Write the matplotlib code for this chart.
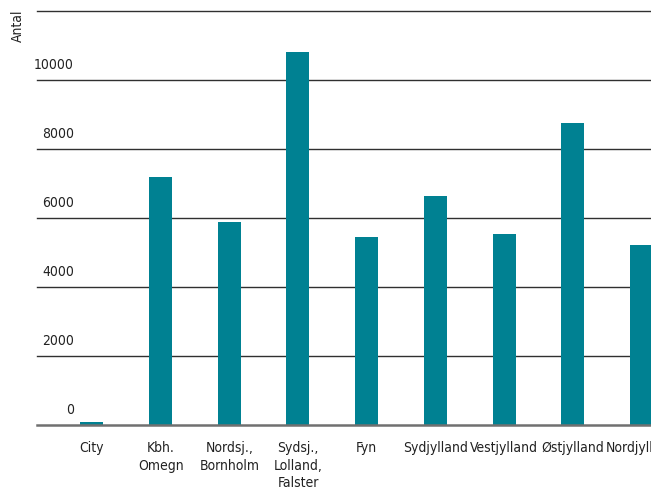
import matplotlib.pyplot as plt
import matplotlib.transforms as mtransforms
import numpy as np

# data
regioner = ['City', 'Kbh.\nOmegn', 'Nordsj.,\nBornholm', 'Sydsj.,\nLolland,\nFalster', 'Fyn',
            'Sydjylland', 'Vestjylland', 'Østjylland', 'Nordjylland']
antal = [80, 7180, 5880, 10800, 5450, 6650, 5530, 8740, 5220]
yticks = [0, 2000, 4000, 6000, 8000, 10000, 12000]

plt.rcParams['font.family'] = ['DejaVu Sans']
plt.rcParams['font.stretch'] = 'condensed'

fig = plt.figure(figsize=(6.51, 4.89), dpi=100)
ax = fig.add_axes([37/651, 63/489, 1 - 37/651, (426-12)/489])

x = np.arange(len(regioner))
ax.bar(x, antal, width=0.335, color='#008192', zorder=3)

ax.set_xlim(-0.8, 8.14)
ax.set_ylim(0, 12000)

lbl_trans = mtransforms.blended_transform_factory(fig.transFigure, ax.transData)
for t in yticks:
    if t == 0:
        ax.axhline(t, color='#707070', lw=1.8, zorder=4, clip_on=False)
    else:
        ax.axhline(t, color='#303030', lw=1.0, zorder=1, clip_on=False)
    if t < 12000:
        fig.text(74/651, t + 250, str(t), transform=lbl_trans,
                 ha='right', va='bottom', fontsize=10, color='#222222')

fig.text(18/651, 1 - 10/489, 'Antal', rotation=90, ha='center', va='top',
         fontsize=10, color='#222222')

for s in ax.spines.values():
    s.set_visible(False)
ax.set_yticks([])
ax.set_xticks(x)
ax.set_xticklabels(regioner, fontsize=10, color='#222222', linespacing=1.3)
ax.tick_params(axis='x', length=0, pad=11)

fig.savefig('out.png', dpi=100)
